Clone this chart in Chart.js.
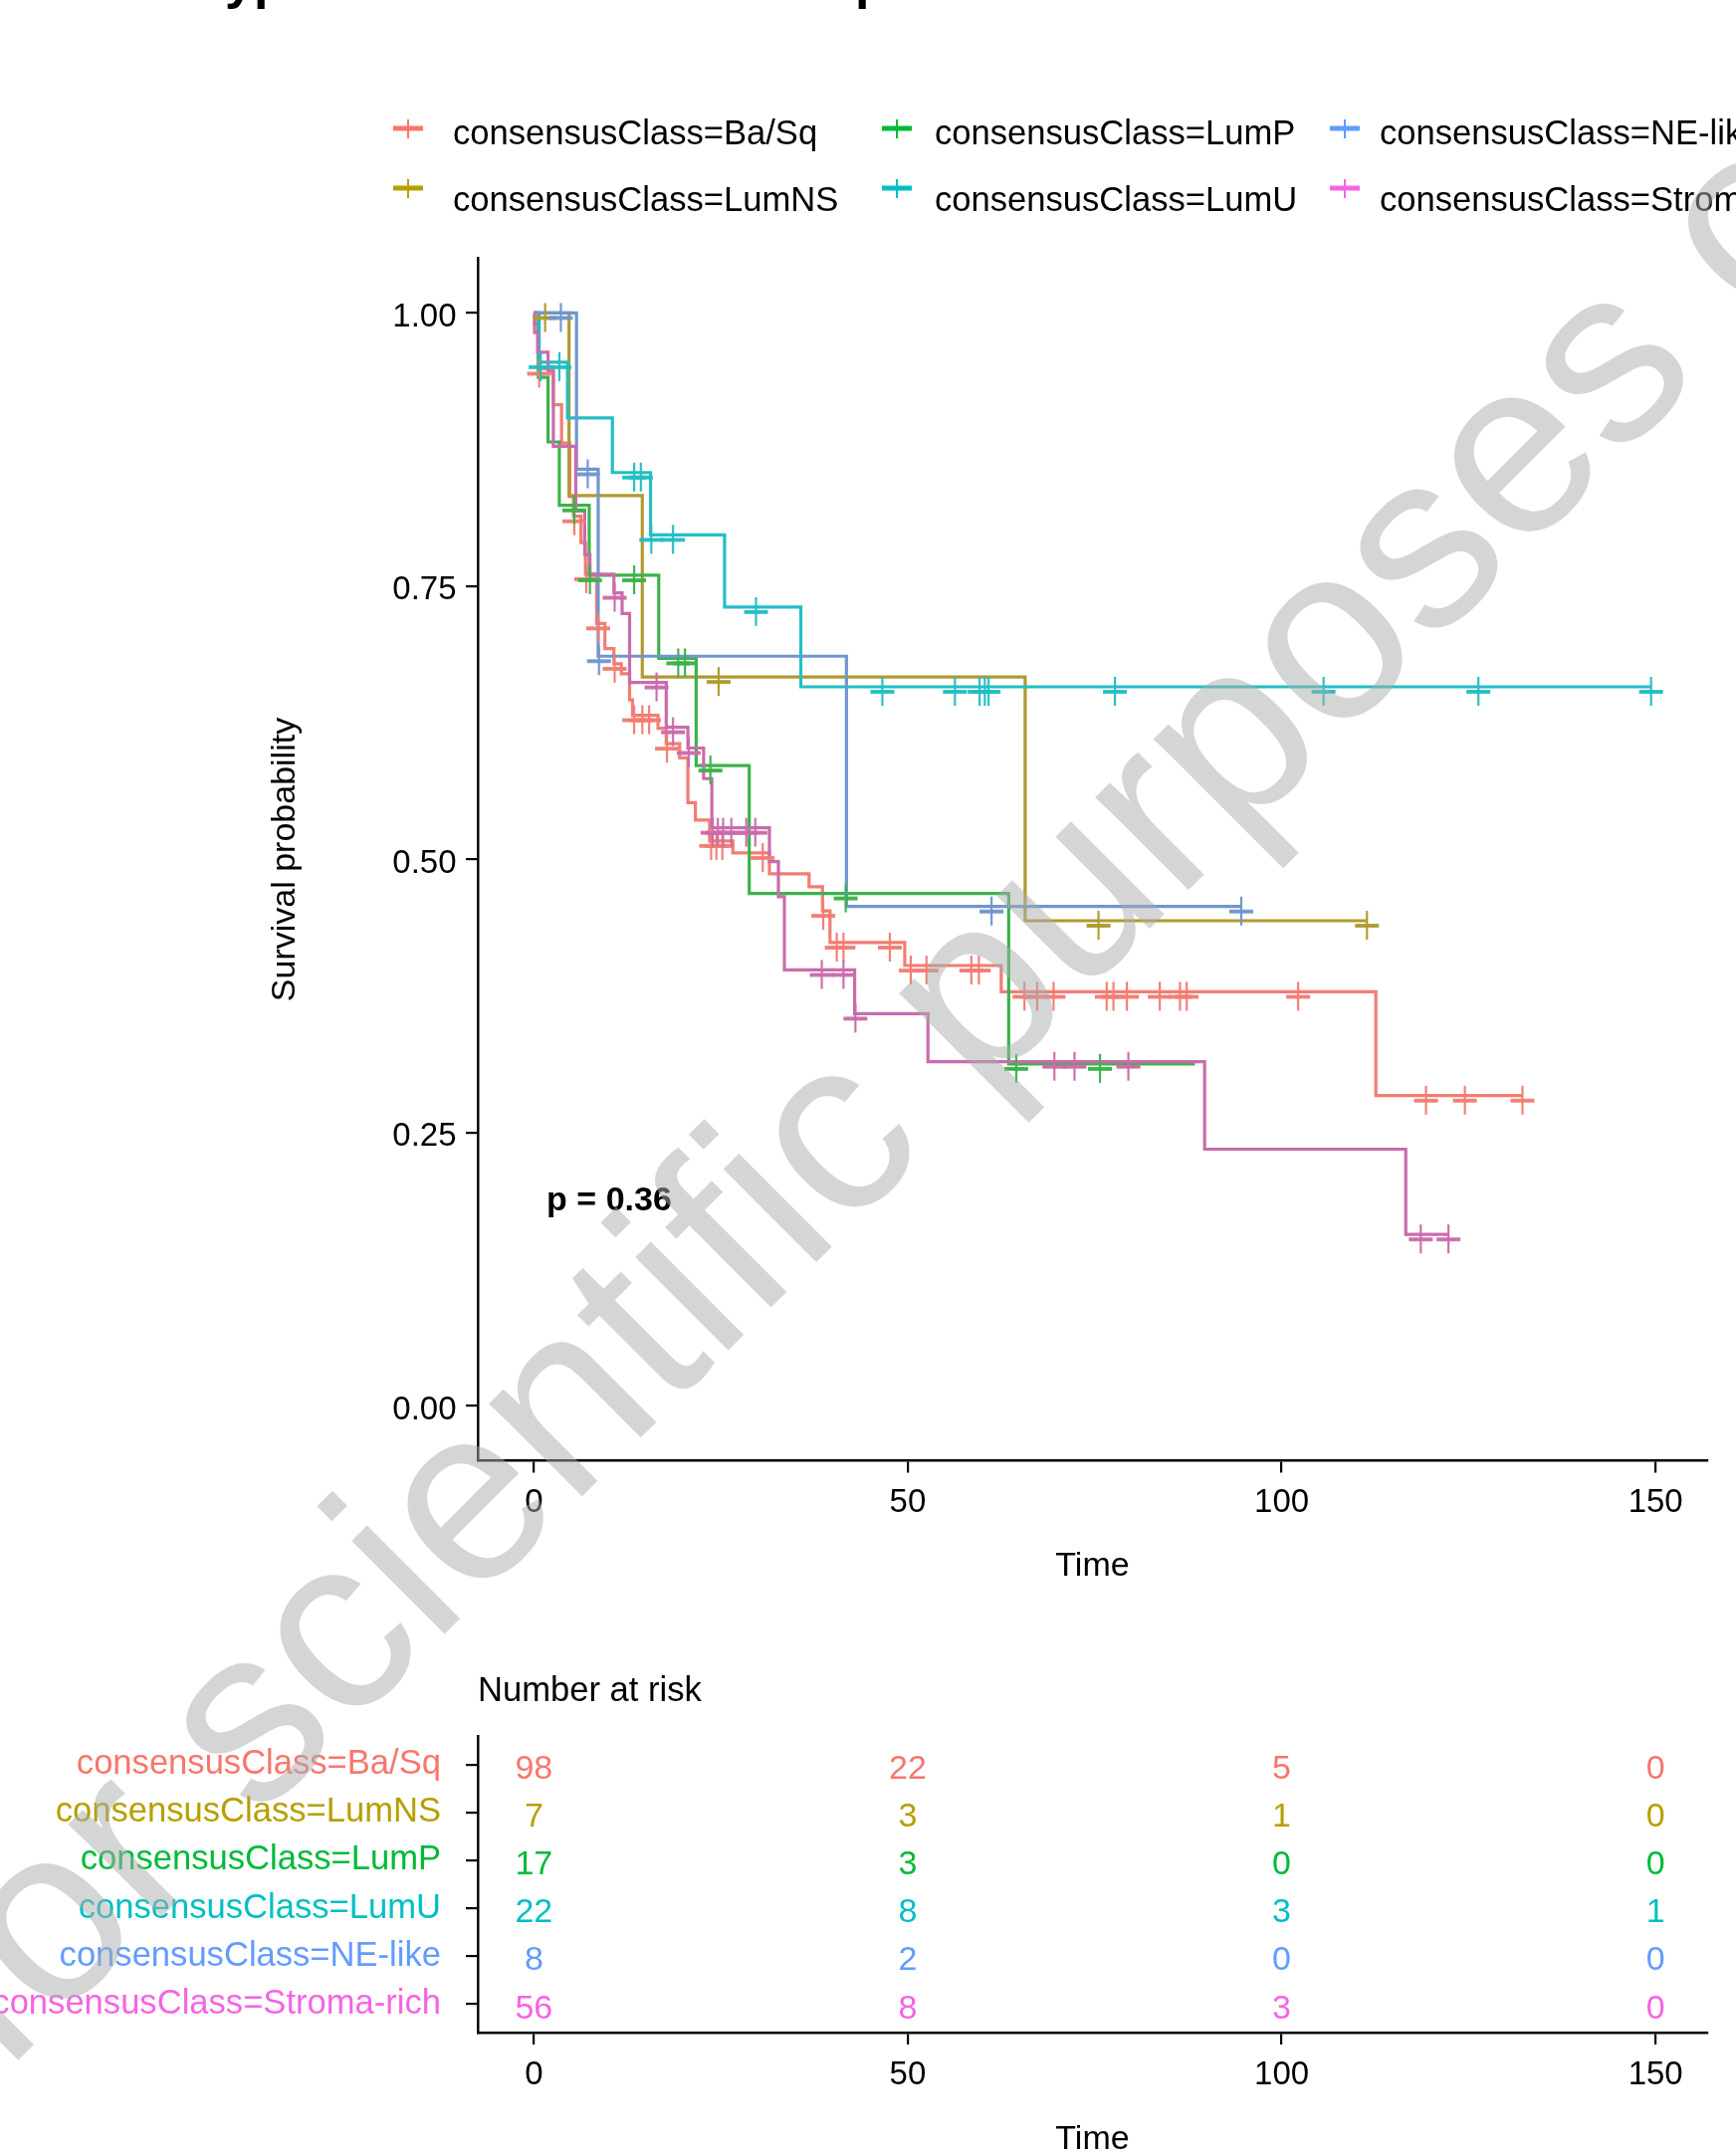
<!DOCTYPE html>
<html>
<head>
<meta charset="utf-8">
<title>Survival by consensus class</title>
<script src="https://cdn.jsdelivr.net/npm/chart.js@4.4.1/dist/chart.umd.min.js"></script>
<style>
  html, body { margin: 0; padding: 0; background: #ffffff; overflow: hidden; }
  #page { position: relative; width: 1744px; height: 2164px; overflow: hidden; }
  canvas { position: absolute; left: 0; }
  #main { top: 0; }
  #risk { top: 1600px; }
  #mark { top: 0; pointer-events: none; }
</style>
</head>
<body>
<div id="page">
  <canvas id="main" width="1744" height="1620"></canvas>
  <canvas id="risk" width="1744" height="600"></canvas>
  <canvas id="mark" width="1744" height="2164"></canvas>
</div>
<script>
const groups = [
  'consensusClass=Ba/Sq', 'consensusClass=LumNS', 'consensusClass=LumP',
  'consensusClass=LumU', 'consensusClass=NE-like', 'consensusClass=Stroma-rich'
];

// step times (event) and survival after each step, censor times, last follow-up
const basqTimes = [0.1, 0.6, 2.6, 3.7, 4.8, 5.3, 6.3, 6.9, 8.4, 9.5, 10.7, 11.7, 12.8, 13.2, 16.6, 17.7, 19.5, 20.6, 21.6, 23.5, 26.6, 31.5, 36.8, 38.6, 39.6, 49.6, 62.5, 112.6];
const basqSurv = [0.990, 0.949, 0.916, 0.881, 0.832, 0.814, 0.790, 0.761, 0.716, 0.693, 0.679, 0.670, 0.646, 0.632, 0.620, 0.606, 0.593, 0.552, 0.536, 0.517, 0.506, 0.487, 0.475, 0.453, 0.424, 0.403, 0.379, 0.284];
const basqCensor = [0.7, 5.4, 7.0, 8.6, 10.8, 13.4, 14.5, 15.4, 17.8, 23.7, 24.4, 25.2, 30.6, 38.7, 40.5, 41.4, 47.6, 50.4, 52.5, 58.5, 59.5, 65.6, 67.3, 69.5, 76.6, 77.5, 79.3, 83.7, 86.4, 87.3, 102.2, 119.3, 124.5, 132.2];
const basqEnd = 132.2;

const lumnsTimes = [4.7, 14.5, 65.7];
const lumnsSurv = [0.833, 0.667, 0.444];
const lumnsCensor = [1.5, 24.7, 75.5, 111.4];
const lumnsEnd = 111.4;

const lumpTimes = [0.6, 1.9, 3.4, 7.4, 16.7, 21.7, 28.8, 63.5];
const lumpSurv = [0.941, 0.882, 0.824, 0.760, 0.684, 0.586, 0.469, 0.313];
const lumpCensor = [5.4, 7.5, 13.4, 19.3, 20.2, 23.6, 41.7, 64.5, 75.7];
const lumpEnd = 88.4;

const lumuTimes = [0.7, 4.5, 10.5, 15.6, 25.5, 35.7];
const lumuSurv = [0.955, 0.904, 0.854, 0.797, 0.731, 0.658];
const lumuCensor = [0.9, 3.4, 13.4, 14.3, 15.7, 18.6, 29.7, 46.6, 56.3, 59.6, 60.3, 60.8, 77.7, 105.6, 126.3, 149.4];
const lumuEnd = 149.4;

const nelikeTimes = [5.7, 8.6, 41.8];
const nelikeSurv = [0.857, 0.686, 0.457];
const nelikeCensor = [3.6, 7.2, 8.7, 61.2, 94.6];
const nelikeEnd = 94.6;

const stromaTimes = [0.1, 0.5, 1.9, 2.6, 5.6, 6.8, 7.5, 10.7, 11.8, 12.8, 17.7, 20.6, 22.7, 23.8, 31.5, 32.7, 33.5, 42.9, 52.7, 89.7, 116.6];
const stromaSurv = [0.982, 0.964, 0.946, 0.878, 0.819, 0.779, 0.761, 0.744, 0.725, 0.662, 0.621, 0.602, 0.574, 0.529, 0.498, 0.466, 0.399, 0.359, 0.315, 0.235, 0.157];
const stromaCensor = [10.8, 16.4, 18.6, 20.7, 23.9, 24.6, 25.3, 26.4, 28.4, 29.6, 38.5, 41.4, 43.0, 69.6, 72.3, 79.5, 118.6, 122.3];
const stromaEnd = 122.3;

// number at risk
const riskTimes = [0, 50, 100, 150];
const riskBasq = [98, 22, 5, 0];
const riskLumns = [7, 3, 1, 0];
const riskLump = [17, 3, 0, 0];
const riskLumu = [22, 8, 3, 1];
const riskNelike = [8, 2, 0, 0];
const riskStroma = [56, 8, 3, 0];

const xTicks = [0, 50, 100, 150];
const yTicks = [0, 0.25, 0.5, 0.75, 1];
const pLabel = 'p = 0.36';

const lineColors = ['#F27D73', '#B09A2E', '#3CB24C', '#23BEC4', '#7096CE', '#CA6CAC'];
const keyColors = ['#F8766D', '#B79F00', '#00BA38', '#00BFC4', '#619CFF', '#F564E3'];

const curveTimes = [basqTimes, lumnsTimes, lumpTimes, lumuTimes, nelikeTimes, stromaTimes];
const curveSurv = [basqSurv, lumnsSurv, lumpSurv, lumuSurv, nelikeSurv, stromaSurv];
const curveCensor = [basqCensor, lumnsCensor, lumpCensor, lumuCensor, nelikeCensor, stromaCensor];
const curveEnd = [basqEnd, lumnsEnd, lumpEnd, lumuEnd, nelikeEnd, stromaEnd];
const riskCounts = [riskBasq, riskLumns, riskLump, riskLumu, riskNelike, riskStroma];

const FONT = '"Liberation Sans", Arial, sans-serif';
Chart.defaults.font.family = FONT;
Chart.defaults.color = '#000';

function curvePoints(times, surv, end) {
  const pts = [{ x: 0, y: 1 }];
  times.forEach((t, i) => pts.push({ x: t, y: surv[i] }));
  pts.push({ x: end, y: surv[surv.length - 1] });
  return pts;
}

function survAt(times, surv, t) {
  let s = 1;
  times.forEach((e, i) => { if (e <= t) s = surv[i]; });
  return s;
}

// censor "+" like the R one: thin upright, thicker bar sitting a bit low
function plusMark(color) {
  const c = document.createElement('canvas');
  c.width = 40; c.height = 40;
  const g = c.getContext('2d');
  g.strokeStyle = color;
  g.lineWidth = 2.2;
  g.beginPath(); g.moveTo(20, 10); g.lineTo(20, 39); g.stroke();
  g.lineWidth = 3.8;
  g.beginPath(); g.moveTo(8, 25); g.lineTo(32, 25); g.stroke();
  return c;
}

const datasets = [];
groups.forEach((g, i) => {
  datasets.push({
    label: g,
    data: curvePoints(curveTimes[i], curveSurv[i], curveEnd[i]),
    borderColor: lineColors[i],
    borderWidth: 3.2,
    stepped: 'before',
    pointRadius: 0,
    fill: false,
    order: 6 + (5 - i)
  });
  datasets.push({
    label: g + ' (censored)',
    data: curveCensor[i].map(t => ({ x: t, y: survAt(curveTimes[i], curveSurv[i], t) })),
    showLine: false,
    pointStyle: plusMark(lineColors[i]),
    pointRadius: 4,
    pointHoverRadius: 4,
    order: 5 - i
  });
});

function drawKey(ctx, x, y, color) {
  ctx.strokeStyle = color;
  ctx.lineWidth = 5;
  ctx.beginPath(); ctx.moveTo(x - 15, y); ctx.lineTo(x + 15, y); ctx.stroke();
  ctx.lineWidth = 2;
  ctx.beginPath(); ctx.moveTo(x, y - 9); ctx.lineTo(x, y + 10); ctx.stroke();
}

const mainDecor = {
  id: 'mainDecor',
  afterDraw(chart) {
    const { ctx, scales } = chart;
    ctx.save();
    // title sits above the visible area, only descenders show
    ctx.font = 'bold 52px ' + FONT;
    ctx.fillStyle = '#000';
    ctx.textAlign = 'left';
    ctx.textBaseline = 'alphabetic';
    const title = 'Consensus molecular subtypes and overall survival plot';
    ctx.fillText(title, 226 - ctx.measureText('Consensus molecular subt').width, -2.5);

    // legend, filled by column
    const keyX = [410, 901, 1351];
    const textX = [455, 939, 1386];
    const keyY = [129, 189];
    const textY = [135, 202];
    ctx.font = '34.6px ' + FONT;
    ctx.textBaseline = 'middle';
    groups.forEach((g, i) => {
      const col = Math.floor(i / 2), row = i % 2;
      drawKey(ctx, keyX[col], keyY[row], keyColors[i]);
      ctx.fillStyle = '#000';
      ctx.fillText(g, textX[col], textY[row]);
    });

    ctx.font = 'bold 34px ' + FONT;
    ctx.fillStyle = '#000';
    ctx.fillText(pLabel, scales.x.getPixelForValue(1.7), scales.y.getPixelForValue(0.188));
    ctx.restore();
  }
};

new Chart(document.getElementById('main'), {
  type: 'line',
  data: { datasets: datasets },
  options: {
    responsive: false,
    animation: false,
    events: [],
    layout: { padding: { top: 259.5, right: 29, bottom: 0, left: 0 } },
    plugins: { legend: { display: false }, tooltip: { enabled: false } },
    scales: {
      x: {
        type: 'linear', min: -7.5, max: 156.9,
        afterBuildTicks: s => { s.ticks = xTicks.map(v => ({ value: v })); },
        afterFit: s => { s.height = 1620 - 1467.5; },
        grid: { drawOnChartArea: false, drawTicks: true, tickLength: 12, color: '#000', lineWidth: 2.2 },
        border: { display: true, color: '#000', width: 2.5 },
        ticks: { autoSkip: false, maxRotation: 0, padding: 11, color: '#000', font: { size: 33 } },
        title: { display: true, text: 'Time', color: '#000', font: { size: 34 }, padding: { top: 0, bottom: 26 } }
      },
      y: {
        type: 'linear', min: -0.05, max: 1.05,
        afterBuildTicks: s => { s.ticks = yTicks.map(v => ({ value: v })); },
        afterFit: s => { s.width = 480; },
        grid: { drawOnChartArea: false, drawTicks: true, tickLength: 12, color: '#000', lineWidth: 2.2 },
        border: { display: true, color: '#000', width: 2.5 },
        ticks: { padding: 9.5, labelOffset: 4, color: '#000', font: { size: 33 }, callback: v => Number(v).toFixed(2) },
        title: { display: true, text: 'Survival probability', color: '#000', font: { size: 34 }, padding: { top: 266 } }
      }
    }
  },
  plugins: [mainDecor]
});

// risk table
const riskDecor = {
  id: 'riskDecor',
  afterDatasetsDraw(chart) {
    const { ctx } = chart;
    ctx.save();
    ctx.font = '34px ' + FONT;
    ctx.textAlign = 'center';
    ctx.textBaseline = 'middle';
    chart.data.datasets.forEach((ds, i) => {
      chart.getDatasetMeta(i).data.forEach((pt, j) => {
        ctx.fillStyle = keyColors[i];
        ctx.fillText(String(riskCounts[i][j]), pt.x, pt.y + 5);
      });
    });
    ctx.textAlign = 'left';
    ctx.fillStyle = '#000';
    ctx.font = '34.6px ' + FONT;
    ctx.fillText('Number at risk', chart.chartArea.left, 99);
    ctx.restore();
  }
};

new Chart(document.getElementById('risk'), {
  type: 'scatter',
  data: {
    datasets: groups.map((g, i) => ({
      label: g,
      data: riskTimes.map(t => ({ x: t, y: i + 1 })),
      pointRadius: 0
    }))
  },
  options: {
    responsive: false,
    animation: false,
    events: [],
    layout: { padding: { top: 144, right: 29, bottom: 0, left: 0 } },
    plugins: { legend: { display: false }, tooltip: { enabled: false } },
    scales: {
      x: {
        type: 'linear', min: -7.5, max: 156.9,
        afterBuildTicks: s => { s.ticks = xTicks.map(v => ({ value: v })); },
        afterFit: s => { s.height = 600 - 442; },
        grid: { drawOnChartArea: false, drawTicks: true, tickLength: 12, color: '#000', lineWidth: 2.2 },
        border: { display: true, color: '#000', width: 2.5 },
        ticks: { autoSkip: false, maxRotation: 0, padding: 11, color: '#000', font: { size: 33 } },
        title: { display: true, text: 'Time', color: '#000', font: { size: 34 }, padding: { top: 0, bottom: 30 } }
      },
      y: {
        type: 'linear', min: 0.4, max: 6.6, reverse: true,
        afterBuildTicks: s => { s.ticks = groups.map((g, i) => ({ value: i + 1 })); },
        afterFit: s => { s.width = 480; },
        grid: { drawOnChartArea: false, drawTicks: true, tickLength: 12, color: '#000', lineWidth: 2.2 },
        border: { display: true, color: '#000', width: 2.5 },
        ticks: {
          padding: 25,
          font: { size: 34.6 },
          color: c => keyColors[c.index],
          callback: v => groups[Math.round(v) - 1]
        }
      }
    }
  },
  plugins: [riskDecor]
});

// watermark across the whole figure
const wm = document.getElementById('mark').getContext('2d');
wm.font = '250px ' + FONT;
wm.fillStyle = 'rgba(170,174,174,0.5)';
wm.textBaseline = 'alphabetic';
wm.translate(985, 1103);
wm.rotate(-45 * Math.PI / 180);
wm.fillText('for scientific purposes only', -wm.measureText('for scientific ').width, 0);
</script>
</body>
</html>
